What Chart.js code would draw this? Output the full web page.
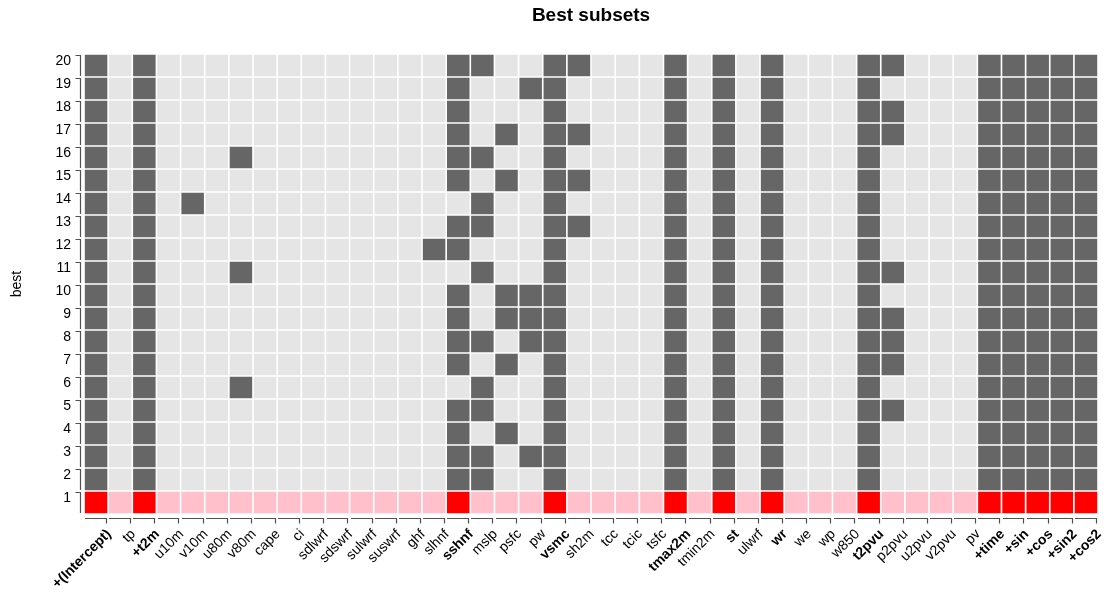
<!DOCTYPE html>
<html>
<head>
<meta charset="utf-8">
<title>Best subsets</title>
<script src="https://cdn.jsdelivr.net/npm/chart.js@4/dist/chart.umd.min.js"></script>
<style>
  html, body { margin: 0; padding: 0; background: #ffffff; }
  #wrap { width: 1110px; height: 595px; position: relative; }
</style>
</head>
<body>
<div id="wrap"><canvas id="chart"></canvas></div>
<script>
// Candidate predictors, in column order
const variables = ['+(Intercept)', 'tp', '+t2m', 'u10m', 'v10m', 'u80m', 'v80m', 'cape', 'ci',
  'sdlwrf', 'sdswrf', 'sulwrf', 'suswrf', 'ghf', 'slhnf', 'sshnf', 'mslp', 'psfc', 'pw', 'vsmc',
  'sh2m', 'tcc', 'tcic', 'tsfc', 'tmax2m', 'tmin2m', 'st', 'ulwrf', 'wr', 'we', 'wp', 'w850',
  't2pvu', 'p2pvu', 'u2pvu', 'v2pvu', 'pv', '+time', '+sin', '+cos', '+sin2', '+cos2'];

// Rank of each subset (y tick labels)
const bestRanks = [1, 2, 3, 4, 5, 6, 7, 8, 9, 10, 11, 12, 13, 14, 15, 16, 17, 18, 19, 20];

// Terms present in every one of the 20 subsets
const coreVars = ['+(Intercept)', '+t2m', 'vsmc', 'tmax2m', 'st', 'wr', 't2pvu',
  '+time', '+sin', '+cos', '+sin2', '+cos2'];

// Additional terms of subset 1 .. 20
const extraVars = [
  ['sshnf'],
  ['sshnf', 'mslp'],
  ['sshnf', 'mslp', 'pw'],
  ['sshnf', 'psfc'],
  ['sshnf', 'mslp', 'p2pvu'],
  ['v80m', 'mslp'],
  ['sshnf', 'psfc', 'p2pvu'],
  ['sshnf', 'mslp', 'pw', 'p2pvu'],
  ['sshnf', 'psfc', 'pw', 'p2pvu'],
  ['sshnf', 'psfc', 'pw'],
  ['v80m', 'mslp', 'p2pvu'],
  ['slhnf', 'sshnf'],
  ['sshnf', 'mslp', 'sh2m'],
  ['v10m', 'mslp'],
  ['sshnf', 'psfc', 'sh2m'],
  ['v80m', 'sshnf', 'mslp'],
  ['sshnf', 'psfc', 'sh2m', 'p2pvu'],
  ['sshnf', 'p2pvu'],
  ['sshnf', 'pw'],
  ['sshnf', 'mslp', 'sh2m', 'p2pvu']
];

const bestSubset = coreVars.concat(extraVars[0]);
const FONT = "'Liberation Sans', Arial, Helvetica, sans-serif";
const CELL_GAP = 1.15;

// One dataset per subset: a row of floating bars spanning rank +/- 0.5
const datasets = bestRanks.map((rank, i) => {
  const members = coreVars.concat(extraVars[i]);
  const on = rank === 1 ? '#ff0000' : '#666666';
  const off = rank === 1 ? '#ffc0cb' : '#e5e5e5';
  return {
    label: 'best ' + rank,
    xAxisID: 'x',
    yAxisID: 'y',
    data: variables.map(() => [rank - 0.5, rank + 0.5]),
    backgroundColor: variables.map(v => members.includes(v) ? on : off),
    borderColor: '#ffffff',
    borderWidth: CELL_GAP,
    borderSkipped: false,
    barPercentage: 1,
    categoryPercentage: 1,
    grouped: false
  };
});

// Segmented axis lines: one bracket per row and per column
const bracketAxes = {
  id: 'bracketAxes',
  afterDraw(chart) {
    const { ctx } = chart;
    const x = chart.scales.x, y = chart.scales.y;
    ctx.save();
    ctx.strokeStyle = '#505050';
    ctx.lineWidth = 1.2;
    const half = (x.right - x.left) / variables.length / 2;
    const yl = Math.round(y.bottom + 3.5) + 0.5;
    variables.forEach((v, i) => {
      const c = x.getPixelForValue(i);
      const l = Math.round(c - half + CELL_GAP);
      const r = Math.round(c + half - CELL_GAP) - 0.5;
      ctx.beginPath();
      ctx.moveTo(l, yl);
      ctx.lineTo(r, yl);
      ctx.lineTo(r, yl + 5);
      ctx.stroke();
    });
    const xl = Math.round(x.left - 4.5) + 0.5;
    bestRanks.forEach(rank => {
      const t = Math.round(y.getPixelForValue(rank + 0.5) + CELL_GAP) + 0.5;
      const b = Math.round(y.getPixelForValue(rank - 0.5) - CELL_GAP);
      ctx.beginPath();
      ctx.moveTo(xl - 5, t);
      ctx.lineTo(xl, t);
      ctx.lineTo(xl, b);
      ctx.stroke();
    });
    ctx.restore();
  }
};

Chart.defaults.font.family = FONT;
Chart.defaults.color = '#000000';

new Chart(document.getElementById('chart'), {
  type: 'bar',
  data: { labels: variables, datasets },
  plugins: [bracketAxes],
  options: {
    responsive: true,
    maintainAspectRatio: false,
    animation: false,
    layout: { padding: { left: 0, right: 8, top: 0, bottom: 0 } },
    plugins: {
      legend: { display: false },
      tooltip: { enabled: false }
    },
    scales: {
      x: {
        type: 'category',
        position: 'bottom',
        offset: true,
        grid: { display: false, drawTicks: false },
        border: { display: false },
        ticks: {
          autoSkip: false,
          minRotation: 45,
          maxRotation: 45,
          labelOffset: 13,
          padding: 12,
          color: '#000000',
          font: ctx => ({
            family: FONT,
            size: 14,
            weight: bestSubset.includes(variables[ctx.index]) ? 'bold' : 'normal'
          })
        },
        afterFit: s => { s.height = 81; }
      },
      top: {
        type: 'category',
        position: 'top',
        labels: variables,
        grid: { display: false, drawTicks: false },
        border: { display: false },
        ticks: { display: false },
        title: {
          display: true,
          text: 'Best subsets',
          color: '#000000',
          font: { family: FONT, size: 19, weight: 'bold' },
          padding: { top: 4.6, bottom: 0 }
        },
        afterFit: s => { s.height = 54; }
      },
      y: {
        type: 'linear',
        position: 'left',
        min: 0.5,
        max: 20.5,
        grid: { display: false, drawTicks: false },
        border: { display: false },
        afterBuildTicks: s => { s.ticks = bestRanks.map(v => ({ value: v })); },
        ticks: {
          padding: 13,
          labelOffset: -4,
          color: '#000000',
          font: { family: FONT, size: 14 },
          callback: v => String(v)
        },
        title: {
          display: true,
          text: 'best',
          color: '#000000',
          font: { family: FONT, size: 14 },
          padding: { top: 9, bottom: 0 }
        },
        afterFit: s => { s.width = 84; }
      }
    }
  }
});
</script>
</body>
</html>
